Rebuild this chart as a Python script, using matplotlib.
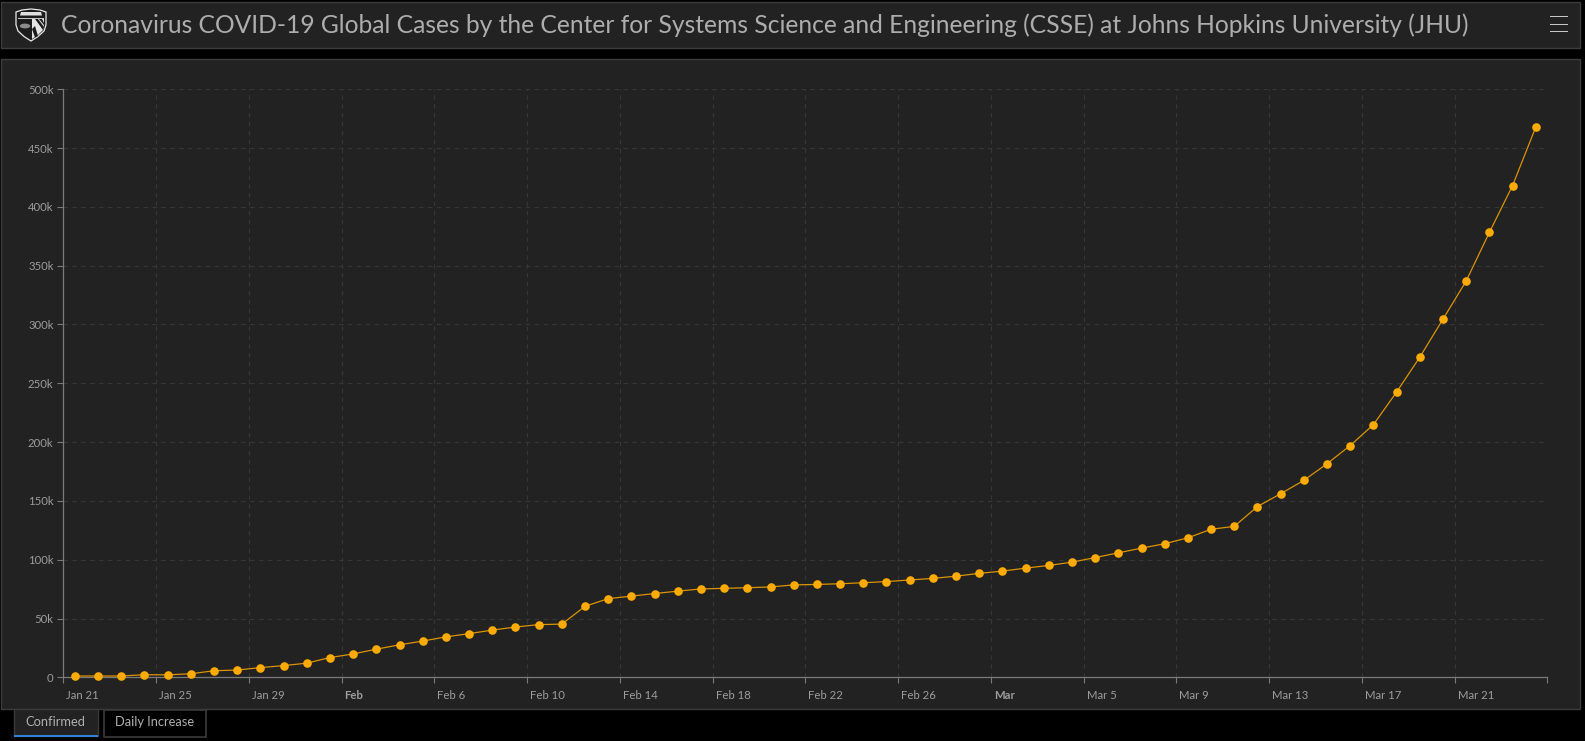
#!/usr/bin/python
import numpy as np
import pandas as pd
import matplotlib
matplotlib.use("agg")
import matplotlib.pyplot as plt
from matplotlib.patches import Rectangle, Polygon, Circle
from matplotlib.transforms import ScaledTranslation

W, H = 1585, 741
DPI = 100

# confirmed cases, one value per day
dates = pd.date_range("2020-01-21", periods=64)
confirmed = [1100, 1100, 1100, 2200, 2100, 3000, 5578, 6166, 8234, 9927,
             12038, 16787, 19881, 23892, 27635, 30794, 34391, 37120, 40150, 42762,
             44802, 45221, 60368, 66885, 69030, 71224, 73258, 75136, 75639, 76197,
             76819, 78572, 78958, 79561, 80406, 81388, 82746, 84112, 86011, 88369,
             90306, 92840, 95120, 97886, 101801, 105847, 109821, 113590, 118620, 125875,
             128352, 145205, 156101, 167454, 181574, 197102, 214821, 242570, 272208, 304507,
             336953, 378235, 418045, 467653]

plt.rcParams["font.family"] = ["Lato", "DejaVu Sans"]

fig = plt.figure(figsize=(W / DPI, H / DPI), dpi=DPI, facecolor="#000000")


def box(x0, y0, x1, y1, face, edge, lw=1.0, z=1):
    # rectangle given in picture pixels, y going down
    fig.add_artist(Rectangle((x0 / W, 1 - y1 / H), (x1 - x0) / W, (y1 - y0) / H,
                             transform=fig.transFigure, facecolor=face,
                             edgecolor=edge, linewidth=lw, zorder=z))


def poly(points, face, edge="none", lw=0.0, z=4):
    fig.add_artist(Polygon([(x / W, 1 - y / H) for x, y in points], closed=True,
                           transform=fig.transFigure, facecolor=face,
                           edgecolor=edge, linewidth=lw, zorder=z))


# header and chart panels
box(0.5, 2.5, 1579.5, 47.5, "#222222", "#3c3c3c", 1.0)
box(0.5, 58.5, 1579.5, 709, "#222222", "#3c3c3c", 1.0)

fig.text(61 / W, 1 - 25 / H, "Coronavirus COVID-19 Global Cases by the Center for Systems Science and Engineering (CSSE) at Johns Hopkins University (JHU)",
         color="#adadad", fontsize=17.7, va="center", ha="left")

# hamburger menu
for yy in (16.5, 24.5, 31.5):
    box(1550, yy - 0.8, 1568, yy + 0.8, "#c8c8c8", "none", 0, 3)

# shield logo
shield = [(16, 12), (22, 10), (31, 9), (40, 10), (46, 12), (46, 25), (44, 31), (38, 36.5), (31, 41),
          (24, 36.5), (18, 31), (16, 25)]
poly(shield, "#1c1c1c", "#e8e8e8", 0.9, 3)
poly([(21, 12), (41, 12), (42, 15.5), (20, 15.5)], "#e0e0e0")
poly([(18, 17.5), (44, 17.5), (44, 19), (18, 19)], "#c4c4c4")
fig.add_artist(Circle((25 / W, 1 - 26 / H), 5.2 / W, transform=fig.transFigure,
                      facecolor="#8c8c8c", edgecolor="none", zorder=6))
# quartered part on the right
poly([(32, 19), (44, 19), (44, 25), (43, 30), (38, 35), (32, 39)], "#e4e4e4")
poly([(35, 19), (38, 19), (44, 27), (43, 30)], "#1c1c1c", z=5)
poly([(32, 29), (35, 26), (38, 36), (35, 37.5)], "#1c1c1c", z=5)
poly([(39, 19), (42, 19), (44, 23), (44, 25)], "#1c1c1c", z=5)

# tabs under the chart
box(13.5, 709, 97.5, 736, "#222222", "#3a3a3a", 1.0)
box(13.5, 734.5, 97.5, 736.5, "#2f80d8", "none", 0, 3)
box(103.5, 709.5, 205.5, 736.5, "#000000", "#3a3a3a", 1.2)
fig.text(55.5 / W, 1 - 722.5 / H, "Confirmed", color="#b0b0b0", fontsize=9.3, ha="center", va="center", zorder=4)
fig.text(154.5 / W, 1 - 722.5 / H, "Daily Increase", color="#b0b0b0", fontsize=9.3, ha="center", va="center", zorder=4)

# chart area
left, right, top, bottom = 63.3, 1547.3, 89.3, 677.3
ax = fig.add_axes([left / W, 1 - bottom / H, (right - left) / W, (bottom - top) / H], facecolor="none")
ax.set_zorder(5)

x = np.arange(len(dates)) + 0.5
ax.plot(x, confirmed, color="#dc9400", linewidth=0.9, zorder=3, clip_on=False)
ax.plot(x, confirmed, linestyle="none", marker="o", markersize=6.2, markeredgewidth=0,
        color="#ffaa00", zorder=4, clip_on=False)

ax.set_xlim(0, len(dates))
ax.set_ylim(0, 500000)

yticks = np.arange(0, 500001, 50000)
ax.set_yticks(yticks)
ax.set_yticklabels(["0" if v == 0 else "%dk" % (v / 1000) for v in yticks])

# a label every 4 days, month name only on the first label of a month
xticks = np.arange(0, len(dates) + 1, 4)
labels = []
prev_month = dates[0].month
for i in xticks:
    if i >= len(dates):
        labels.append("")
        continue
    d = dates[i]
    if d.month != prev_month:
        labels.append(d.strftime("%b"))
        prev_month = d.month
    else:
        labels.append(d.strftime("%b ") + str(d.day))
ax.set_xticks(xticks)
ax.set_xticklabels(labels)

ax.grid(True, color="#363636", linestyle=(0, (4, 4)), linewidth=0.8)
ax.set_axisbelow(True)
for s in ("top", "right"):
    ax.spines[s].set_visible(False)
for s in ("left", "bottom"):
    ax.spines[s].set_color("#7a7a7a")
    ax.spines[s].set_linewidth(0.9)
ax.tick_params(axis="both", colors="#7a7a7a", length=4, width=0.8, labelsize=8.2,
               labelcolor="#9c9c9c")
ax.tick_params(axis="x", pad=5)
ax.tick_params(axis="y", pad=3)

shift = ScaledTranslation(3 / DPI, 0, fig.dpi_scale_trans)
for lab, text in zip(ax.get_xticklabels(), labels):
    lab.set_ha("left")
    lab.set_transform(lab.get_transform() + shift)
    if text in ("Feb", "Mar"):
        lab.set_fontweight("bold")

fig.savefig("out.png", dpi=DPI, facecolor=fig.get_facecolor())
